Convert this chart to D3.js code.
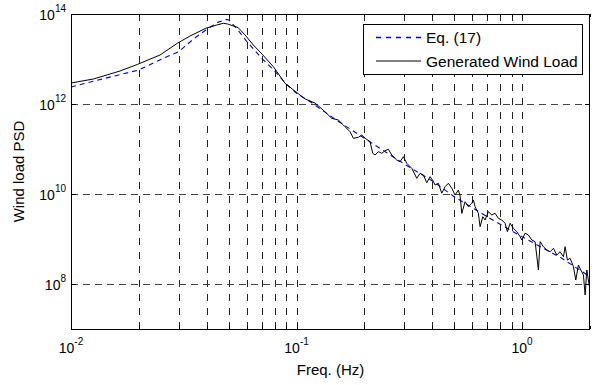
<!DOCTYPE html>
<html>
<head>
<meta charset="utf-8">
<script src="https://cdn.jsdelivr.net/npm/d3@7"></script>
<style>
  html, body { margin: 0; padding: 0; background: #fff; }
  svg { display: block; font-family: Arial, "Liberation Sans", Helvetica, sans-serif; }
</style>
</head>
<body>
<svg id="chart" width="595" height="385"></svg>
<script>
// Eq. (17) target spectrum
const freqEq = [0.01, 0.015, 0.02, 0.025, 0.03, 0.035, 0.04, 0.045, 0.049, 0.05, 0.055, 0.06, 0.07, 0.08, 0.09, 0.1, 0.115, 0.15, 0.2, 0.3, 0.4, 0.5, 0.7, 1.0, 1.5, 2.0];
const psdEq = [2.39e12, 4.0e12, 5.7e12, 9.8e12, 1.45e13, 2.8e13, 4.57e13, 6.6e13, 7.6e13, 7.4e13, 4.4e13, 2.5e13, 1.04e13, 5.4e12, 2.78e12, 1.73e12, 1.12e12, 4.4e11, 1.73e11, 4.65e10, 1.95e10, 8.7e9, 3.13e9, 1.12e9, 3.72e8, 1.45e8];

// PSD of the generated wind load
const freqGen = [0.01, 0.01256, 0.01649, 0.01976, 0.02481, 0.0296, 0.03371, 0.03956, 0.04427, 0.04736,
  0.04954, 0.05245, 0.05503, 0.0591, 0.06433, 0.0696, 0.07892, 0.08892, 0.0995, 0.1091,
  0.1208, 0.1311, 0.1432, 0.1532, 0.1612, 0.1727, 0.1786, 0.188, 0.1946, 0.2013,
  0.2118, 0.2177, 0.2229, 0.2305, 0.2387, 0.2469, 0.2553, 0.2643, 0.2782, 0.2877,
  0.2976, 0.3081, 0.3242, 0.3412, 0.3529, 0.365, 0.3779, 0.3908, 0.403, 0.4114,
  0.4254, 0.4404, 0.4555, 0.4712, 0.4878, 0.5045, 0.5218, 0.5309, 0.5403, 0.5588,
  0.5779, 0.5983, 0.6081, 0.6188, 0.64, 0.6512, 0.6694, 0.6853, 0.7088, 0.7338,
  0.759, 0.785, 0.8128, 0.8407, 0.8606, 0.8847, 0.915, 0.9473, 0.9797, 0.997,
  1.031, 1.066, 1.104, 1.142, 1.181, 1.202, 1.243, 1.287, 1.331, 1.377,
  1.425, 1.474, 1.525, 1.551, 1.588, 1.633, 1.689, 1.73, 1.777, 1.821,
  1.87, 1.903, 1.936, 1.988, 2.0];
const psdGen = [2.93e12, 3.59e12, 5.41e12, 7.62e12, 1.227e13, 2.234e13, 3.244e13, 4.81e13, 5.70e13, 6.21e13,
  5.99e13, 5.41e13, 5.01e13, 3.42e13, 2.047e13, 1.36e13, 6.74e12, 2.884e12, 1.848e12, 1.292e12,
  1.052e12, 7.36e11, 4.81e11, 4.41e11, 3.42e11, 2.42e11, 1.73e11, 1.82e11, 2.05e11, 1.73e11,
  1.45e11, 8.02e10, 7.36e10, 8.71e10, 8.02e10, 9.17e10, 9.85e10, 7.36e10, 5.70e10, 5.22e10,
  6.74e10, 4.81e10, 3.72e10, 2.23e10, 2.88e10, 2.64e10, 1.78e10, 2.42e10, 1.945e10, 1.585e10,
  1.73e10, 1.04e10, 1.45e10, 1.73e10, 1.34e10, 9.50e9, 1.227e10, 9.03e9, 3.72e9, 6.74e9,
  5.22e9, 6.21e9, 7.36e9, 5.22e9, 3.72e9, 1.877e9, 3.13e9, 2.64e9, 4.04e9, 3.42e9,
  3.72e9, 2.88e9, 2.64e9, 2.23e9, 1.45e9, 2.23e9, 1.73e9, 1.45e9, 1.125e9, 9.50e8,
  1.34e9, 1.227e9, 9.50e8, 8.71e8, 2.05e8, 8.71e8, 6.74e8, 5.70e8, 5.22e8, 6.21e8,
  4.41e8, 5.22e8, 4.04e8, 6.74e8, 3.42e8, 3.72e8, 2.42e8, 1.227e8, 2.64e8, 2.05e8,
  1.585e8, 5.70e7, 2.05e8, 8.71e7, 6.31e7];

// Axis ticks (labelled as powers of ten)
const xMajor = [0.01, 0.1, 1];
const xGrid = [0.02, 0.03, 0.04, 0.05, 0.06, 0.07, 0.08, 0.09, 0.1,
               0.2, 0.3, 0.4, 0.5, 0.6, 0.7, 0.8, 0.9, 1];
const yMajor = [1e8, 1e10, 1e12, 1e14];
const yGrid = [1e8, 1e10, 1e12];

const seriesNames = ["Eq. (17)", "Generated Wind Load"];
const xTitle = "Freq. (Hz)";
const yTitle = "Wind load PSD";

const svg = d3.select("#chart");
const L = 71, R = 590, T = 14, B = 329;

const x = d3.scaleLog().domain([0.01, 2]).range([L, R]);
const y = d3.scaleLog().domain([1e7, 1e14]).range([B, T]);

svg.append("defs").append("clipPath").attr("id", "plotClip")
  .append("rect").attr("x", L).attr("y", T).attr("width", R - L).attr("height", B - T);

// grid
const grid = svg.append("g");
grid.selectAll("line.vg").data(xGrid).join("line")
  .attr("x1", d => Math.round(x(d)) + 0.5).attr("x2", d => Math.round(x(d)) + 0.5)
  .attr("y1", B).attr("y2", T)
  .attr("stroke", "#222").attr("stroke-width", 1).attr("stroke-dasharray", "7,7");
grid.selectAll("line.hg").data(yGrid).join("line")
  .attr("y1", d => Math.round(y(d)) + 0.5).attr("y2", d => Math.round(y(d)) + 0.5)
  .attr("x1", L).attr("x2", R)
  .attr("stroke", "#444").attr("stroke-width", 1).attr("stroke-dasharray", "7,5");

// inward ticks on all four sides
const xMinor = d3.range(-2, 1).flatMap(e => d3.range(1, 10).map(k => k * Math.pow(10, e))).filter(v => v <= 2);
function tickMarks(side) {
  const g = svg.append("g");
  xMinor.forEach(v => {
    const len = xMajor.includes(v) ? 5 : 3;
    const px = Math.round(x(v)) + 0.5;
    const y0 = side === "bottom" ? B : T;
    const dir = side === "bottom" ? -1 : 1;
    g.append("line").attr("x1", px).attr("x2", px).attr("y1", y0).attr("y2", y0 + dir * len)
      .attr("stroke", "#000");
  });
}
tickMarks("bottom");
tickMarks("top");
yMajor.forEach(v => {
  const py = Math.round(y(v)) + 0.5;
  svg.append("line").attr("x1", L).attr("x2", L + 5).attr("y1", py).attr("y2", py).attr("stroke", "#000");
  svg.append("line").attr("x1", R).attr("x2", R - 5).attr("y1", py).attr("y2", py).attr("stroke", "#000");
});

// series
const lineGen = d3.line().x(d => x(d[0])).y(d => y(d[1]));
const plot = svg.append("g").attr("clip-path", "url(#plotClip)");
plot.append("path").datum(d3.zip(freqEq, psdEq))
  .attr("d", lineGen).attr("fill", "none")
  .attr("stroke", "#0000ff").attr("stroke-width", 1.1).attr("stroke-dasharray", "5,4");
plot.append("path").datum(d3.zip(freqGen, psdGen))
  .attr("d", lineGen).attr("fill", "none")
  .attr("stroke", "#000").attr("stroke-width", 1);

// frame
svg.append("rect").attr("x", L + 0.5).attr("y", T + 0.5).attr("width", R - L - 1).attr("height", B - T)
  .attr("fill", "none").attr("stroke", "#000").attr("stroke-width", 1);

// tick labels as 10^n
function powLabel(g, exp, anchor) {
  const t = g.append("text").attr("font-size", 14).attr("fill", "#000").attr("text-anchor", anchor);
  t.append("tspan").text("10");
  t.append("tspan").attr("font-size", 10).attr("dy", -8).text(String(exp));
  return t;
}
xMajor.forEach(v => {
  const e = Math.round(Math.log10(v));
  const g = svg.append("g").attr("transform", `translate(${x(v)},353)`);
  powLabel(g, e, "middle");
});
yMajor.forEach(v => {
  const e = Math.round(Math.log10(v));
  const g = svg.append("g").attr("transform", `translate(66,${y(v) + 5.5})`);
  powLabel(g, e, "end");
});

// axis titles
svg.append("text").attr("x", (L + R) / 2).attr("y", 375).attr("text-anchor", "middle")
  .attr("font-size", 15).text(xTitle);
svg.append("text").attr("transform", `translate(24,${(T + B) / 2}) rotate(-90)`)
  .attr("text-anchor", "middle").attr("font-size", 15).text(yTitle);

// legend
const lg = svg.append("g");
lg.append("rect").attr("x", 363.5).attr("y", 24.5).attr("width", 219).attr("height", 50)
  .attr("fill", "#fff").attr("stroke", "#000").attr("stroke-width", 1);
const legendStyles = [
  { color: "#0000ff", dash: "5,5", width: 1.3 },
  { color: "#000", dash: null, width: 1 }
];
seriesNames.forEach((name, i) => {
  const yy = 37.5 + i * 23.5;
  const ln = lg.append("line").attr("x1", 376).attr("x2", 421).attr("y1", yy).attr("y2", yy)
    .attr("stroke", legendStyles[i].color).attr("stroke-width", legendStyles[i].width);
  if (legendStyles[i].dash) ln.attr("stroke-dasharray", legendStyles[i].dash);
  lg.append("text").attr("x", 426).attr("y", yy + 5.5).attr("font-size", 15.5).text(name);
});
</script>
</body>
</html>
